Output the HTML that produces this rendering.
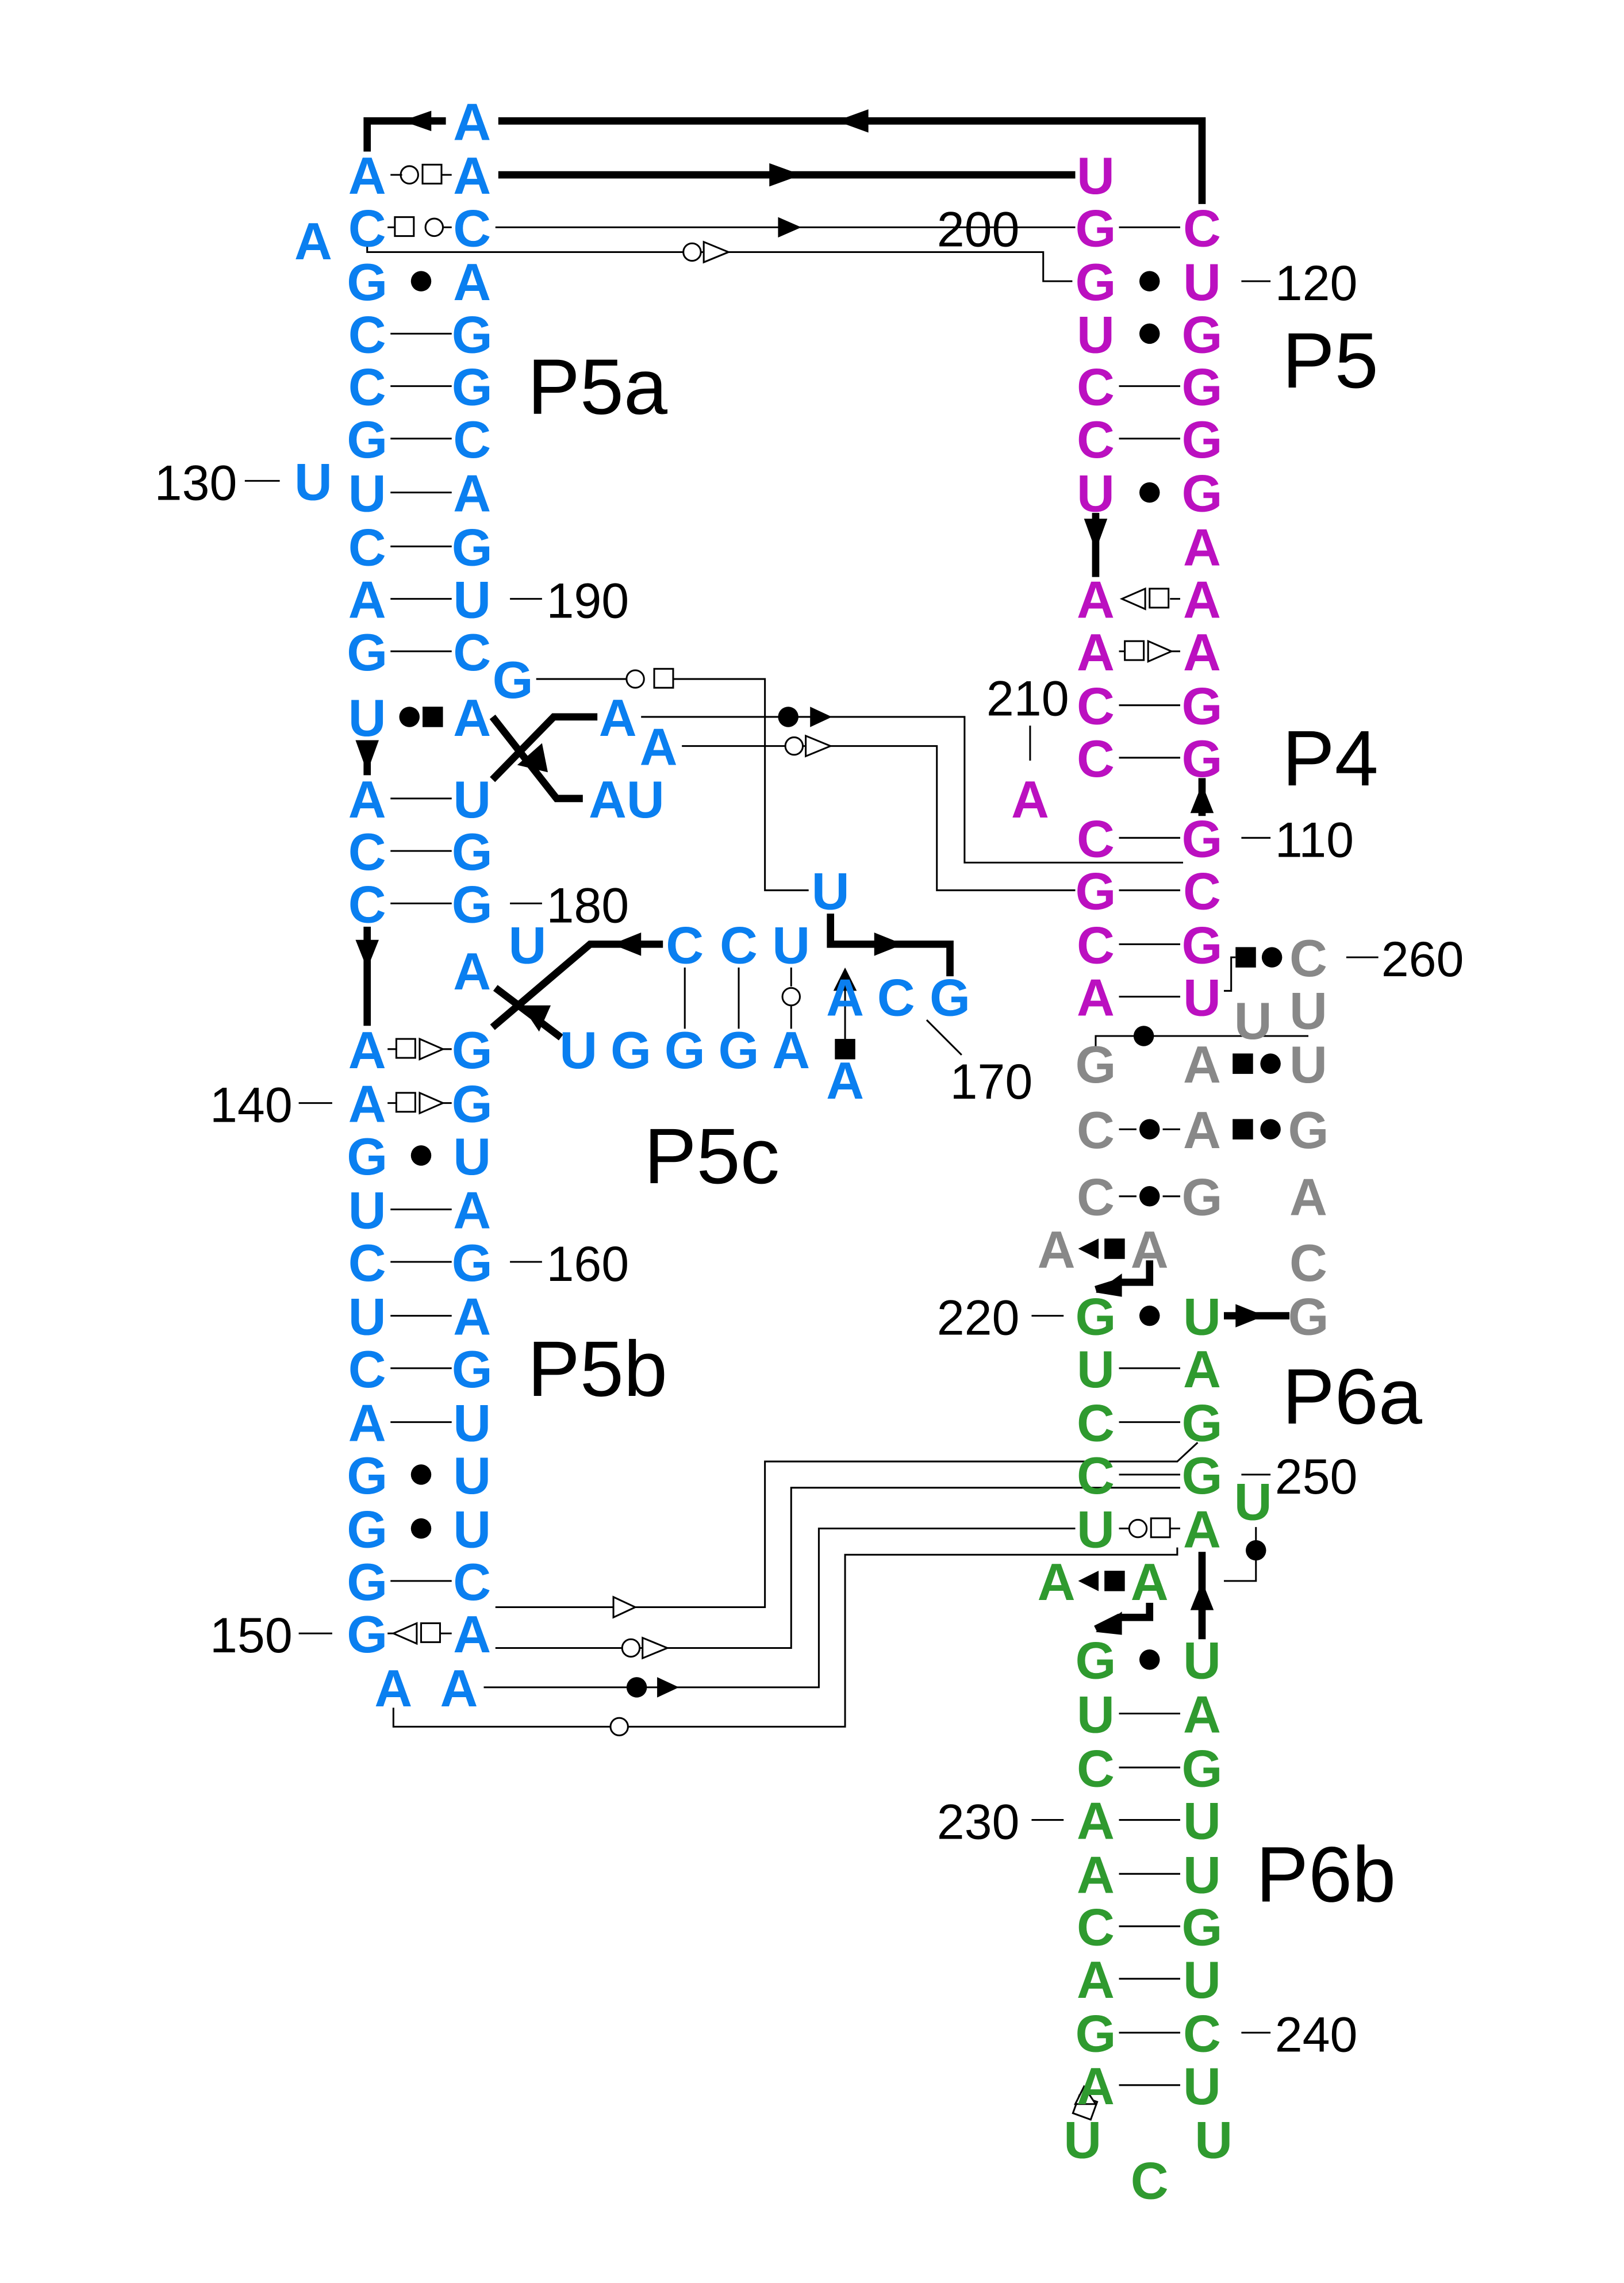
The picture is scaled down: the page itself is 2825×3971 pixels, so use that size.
<!DOCTYPE html>
<html><head><meta charset="utf-8"><style>
html,body{margin:0;padding:0;background:#fff;}
svg{display:block;}
text{font-family:"Liberation Sans",sans-serif;}
.b{font-weight:bold;font-size:36px;text-anchor:middle;}
.bl{fill:#0a7ff0}.mg{fill:#bb10c0}.gr{fill:#888}.gn{fill:#2f9a2f}
.n{font-size:34px;fill:#000}
.lab{font-size:54px;fill:#000}
.t{stroke:#000;stroke-width:1.2;fill:none}
.k{stroke:#000;stroke-width:5;fill:none}
</style></head><body>
<svg width="2825" height="3971" viewBox="0 0 1114.6 1566.8" xmlns="http://www.w3.org/2000/svg">
<rect width="1120" height="1570" fill="#fff"/>
<path class="k" d="M252,104 V83 H306 M342,83 H825 V140 M342,120 H738"/>
<polygon points="276,83 296,76 296,90"/><polygon points="574,83 596,75 596,91"/>
<polygon points="550,120 528,112 528,128"/>
<path class="t" d="M340,156 H738 M252,168 V173 H716 V193 H736"/>
<polygon points="550,156 534,149 534,163"/>
<circle cx="475" cy="173" r="6" fill="#fff" stroke="#000" stroke-width="1.2"/>
<polygon points="483,166 500,173 483,180" fill="#fff" stroke="#000" stroke-width="1.2"/>
<circle cx="281" cy="120" r="6" fill="#fff" stroke="#000" stroke-width="1.2"/><rect x="290" y="113" width="13" height="13" fill="#fff" stroke="#000" stroke-width="1.2"/>
<rect x="271" y="149" width="13" height="13" fill="#fff" stroke="#000" stroke-width="1.2"/><circle cx="298" cy="156" r="6" fill="#fff" stroke="#000" stroke-width="1.2"/>
<path class="t" d="M268,120 H276 M303,120 H310 M266,156 H271 M304,156 H310"/>
<g class="t">
<path d="M268,229H310M268,265H310M268,301H310M268,338H310M268,375H310M268,411H310M268,447H310M268,548H310M268,584H310M268,620H310M268,830H310M268,866H310M268,903H310M268,939H310M268,976H310M268,1085H310"/>
</g>
<g fill="#000"><circle cx="289" cy="193" r="7"/><circle cx="289" cy="793" r="7"/><circle cx="289" cy="1012" r="7"/><circle cx="289" cy="1049" r="7"/>
<circle cx="281" cy="492" r="7"/><rect x="290" y="485" width="14" height="14"/></g>
<g fill="#fff" stroke="#000" stroke-width="1.2">
<rect x="272" y="713" width="13" height="13"/><polygon points="288,713 304,720 288,727"/>
<rect x="272" y="750" width="13" height="13"/><polygon points="288,750 304,757 288,764"/>
<polygon points="270,1121 286,1114 286,1128"/><rect x="289" y="1114" width="13" height="13"/>
</g>
<path class="t" d="M266,720H272M304,720H310M266,757H272M304,757H310M266,1121H270M302,1121H310"/>
<path class="k" d="M252,508 V532 M252,636 V704"/>
<polygon points="252,530 244,508 260,508"/><polygon points="252,665 244,645 260,645"/>
<path class="k" d="M338,535 L380,492 H410 M338,492 L382,548 H400"/>
<polygon points="355,525 372,510 376,530"/>
<path class="k" d="M338,705 L405,648 H455 M340,678 L385,712"/>
<polygon points="420,648 440,640 440,656"/><polygon points="358,690 378,690 370,708"/>
<path class="k" d="M570,627 V648 H652 V670"/><polygon points="620,648 600,640 600,656"/>
<path class="t" d="M470,664V706M507,664V706M543,664V677M543,690V706"/>
<circle cx="543" cy="684" r="6" fill="#fff" stroke="#000" stroke-width="1.2"/>
<polygon points="580,664 572,680 588,680"/><rect x="573" y="713" width="14" height="14"/>
<path class="t" d="M580,680V713 M636,700 L660,724"/>
<path class="t" d="M368,466 H430 M462,466 H525 V611 H555"/>
<circle cx="436" cy="466" r="6" fill="#fff" stroke="#000" stroke-width="1.2"/><rect x="449" y="459" width="13" height="13" fill="#fff" stroke="#000" stroke-width="1.2"/>
<path class="t" d="M440,492 H662 V592 H812"/>
<circle cx="541" cy="492" r="7"/><polygon points="556,485 571,492 556,499"/>
<path class="t" d="M468,512 H643 V611 H738"/>
<circle cx="545" cy="512" r="6" fill="#fff" stroke="#000" stroke-width="1.2"/><polygon points="553,505 570,512 553,519" fill="#fff" stroke="#000" stroke-width="1.2"/>
<path class="t" d="M768,156H810M768,265H810M768,301H810M768,484H810M768,520H810M768,575H810M768,611H810M768,648H810M768,684H810M768,939H810M768,976H810M768,1012H810M768,1176H810M768,1213H810M768,1249H810M768,1286H810M768,1322H810M768,1358H810M768,1395H810M768,1431H810"/>
<g fill="#000"><circle cx="789" cy="193" r="7"/><circle cx="789" cy="229" r="7"/><circle cx="789" cy="338" r="7"/><circle cx="789" cy="903" r="7"/><circle cx="789" cy="1139" r="7"/></g>
<g fill="#fff" stroke="#000" stroke-width="1.2">
<polygon points="770,411 786,404 786,418"/><rect x="789" y="404" width="13" height="13"/>
<rect x="772" y="440" width="13" height="13"/><polygon points="788,440 804,447 788,454"/>
<rect x="738" y="1440" width="13" height="13" transform="rotate(20 745 1447)"/><polygon points="744,1432 738,1444 752,1444"/>
<circle cx="781" cy="1049" r="6"/><rect x="790" y="1042" width="13" height="13"/>
</g>
<path class="t" d="M803,411H810M768,447H772M804,447H810M768,1049H775M803,1049H810"/>
<path class="k" d="M752,352 V396 M825,534 V560"/>
<polygon points="752,378 744,356 760,356"/><polygon points="825,538 817,558 833,558"/>
<path class="t" d="M840,680 H845 V657 H848 M752,720 V711 H898"/>
<rect x="848" y="650" width="14" height="14"/><circle cx="873" cy="657" r="7"/>
<circle cx="785" cy="711" r="7"/>
<rect x="846" y="723" width="14" height="14"/><circle cx="872" cy="730" r="7"/>
<path class="t" d="M768,775H780M798,775H810"/><circle cx="789" cy="775" r="7"/>
<rect x="846" y="768" width="14" height="14"/><circle cx="872" cy="775" r="7"/>
<path class="t" d="M768,821H780M798,821H810"/><circle cx="789" cy="821" r="7"/>
<polygon points="740,857 754,850 754,864"/><rect x="758" y="850" width="14" height="14"/>
<path class="k" d="M752,885 L768,880 H789 V865 M840,903 H885"/><polygon points="752,887 770,874 770,890"/><polygon points="868,903 848,895 848,911"/>
<polygon points="740,1085 754,1078 754,1092"/><rect x="758" y="1078" width="14" height="14"/>
<path class="k" d="M752,1118 L768,1110 H789 V1100 M825,1125 V1065"/><polygon points="752,1120 770,1106 770,1122"/><polygon points="825,1085 817,1105 833,1105"/>
<path class="t" d="M862,1048 V1085 H840"/><circle cx="862" cy="1064" r="7"/>
<path class="t" d="M340,1103 H525 V1003 H808 L822,990"/>
<polygon points="421,1096 436,1103 421,1110" fill="#fff" stroke="#000" stroke-width="1.2"/>
<path class="t" d="M340,1131 H543 V1021 H810"/>
<circle cx="433" cy="1131" r="6" fill="#fff" stroke="#000" stroke-width="1.2"/><polygon points="441,1124 458,1131 441,1138" fill="#fff" stroke="#000" stroke-width="1.2"/>
<path class="t" d="M332,1158 H562 V1049 H738"/>
<circle cx="437" cy="1158" r="7"/><polygon points="451,1151 466,1158 451,1165"/>
<path class="t" d="M270,1172 V1185 H580 V1067 H808 V1062"/>
<circle cx="425" cy="1185" r="6" fill="#fff" stroke="#000" stroke-width="1.2"/>
<path class="t" d="M852,193H872M168,330H192M350,411H372M707,498V522M852,575H872M350,620H372M924,657H946M205,757H228M350,866H372M708,903H730M852,1012H872M205,1121H228M708,1249H730M852,1395H872"/>
<g class="b bl">
<text x="324" y="96">A</text>
<text x="252" y="133">A</text><text x="324" y="133">A</text>
<text x="252" y="169">C</text><text x="324" y="169">C</text><text x="215" y="178">A</text>
<text x="252" y="206">G</text><text x="324" y="206">A</text>
<text x="252" y="242">C</text><text x="324" y="242">G</text>
<text x="252" y="278">C</text><text x="324" y="278">G</text>
<text x="252" y="314">G</text><text x="324" y="314">C</text>
<text x="252" y="351">U</text><text x="324" y="351">A</text><text x="215" y="343">U</text>
<text x="252" y="388">C</text><text x="324" y="388">G</text>
<text x="252" y="424">A</text><text x="324" y="424">U</text>
<text x="252" y="460">G</text><text x="324" y="460">C</text><text x="352" y="479">G</text>
<text x="252" y="505">U</text><text x="324" y="505">A</text><text x="424" y="505">A</text><text x="452" y="525">A</text>
<text x="252" y="561">A</text><text x="324" y="561">U</text><text x="430" y="561">AU</text>
<text x="252" y="597">C</text><text x="324" y="597">G</text>
<text x="252" y="633">C</text><text x="324" y="633">G</text><text x="570" y="624">U</text>
<text x="362" y="661">U</text><text x="470" y="661">C</text><text x="507" y="661">C</text><text x="543" y="661">U</text>
<text x="324" y="679">A</text><text x="580" y="697">A</text><text x="615" y="697">C</text><text x="652" y="697">G</text>
<text x="252" y="733">A</text><text x="324" y="733">G</text><text x="397" y="733">U</text><text x="433" y="733">G</text><text x="470" y="733">G</text><text x="507" y="733">G</text><text x="543" y="733">A</text><text x="580" y="754">A</text>
<text x="252" y="770">A</text><text x="324" y="770">G</text>
<text x="252" y="806">G</text><text x="324" y="806">U</text>
<text x="252" y="843">U</text><text x="324" y="843">A</text>
<text x="252" y="879">C</text><text x="324" y="879">G</text>
<text x="252" y="916">U</text><text x="324" y="916">A</text>
<text x="252" y="952">C</text><text x="324" y="952">G</text>
<text x="252" y="989">A</text><text x="324" y="989">U</text>
<text x="252" y="1025">G</text><text x="324" y="1025">U</text>
<text x="252" y="1062">G</text><text x="324" y="1062">U</text>
<text x="252" y="1098">G</text><text x="324" y="1098">C</text>
<text x="252" y="1134">G</text><text x="324" y="1134">A</text>
<text x="270" y="1171">A</text><text x="315" y="1171">A</text>
</g>
<g class="b mg">
<text x="752" y="133">U</text>
<text x="752" y="169">G</text><text x="825" y="169">C</text>
<text x="752" y="206">G</text><text x="825" y="206">U</text>
<text x="752" y="242">U</text><text x="825" y="242">G</text>
<text x="752" y="278">C</text><text x="825" y="278">G</text>
<text x="752" y="314">C</text><text x="825" y="314">G</text>
<text x="752" y="351">U</text><text x="825" y="351">G</text>
<text x="825" y="388">A</text>
<text x="752" y="424">A</text><text x="825" y="424">A</text>
<text x="752" y="460">A</text><text x="825" y="460">A</text>
<text x="752" y="497">C</text><text x="825" y="497">G</text>
<text x="752" y="533">C</text><text x="825" y="533">G</text>
<text x="707" y="561">A</text>
<text x="752" y="588">C</text><text x="825" y="588">G</text>
<text x="752" y="624">G</text><text x="825" y="624">C</text>
<text x="752" y="661">C</text><text x="825" y="661">G</text>
<text x="752" y="697">A</text><text x="825" y="697">U</text>
</g>
<g class="b gr">
<text x="898" y="670">C</text><text x="860" y="713">U</text><text x="898" y="706">U</text>
<text x="752" y="743">G</text><text x="825" y="743">A</text><text x="898" y="743">U</text>
<text x="752" y="788">C</text><text x="825" y="788">A</text><text x="898" y="788">G</text>
<text x="752" y="834">C</text><text x="825" y="834">G</text><text x="898" y="834">A</text>
<text x="725" y="870">A</text><text x="789" y="870">A</text><text x="898" y="879">C</text>
<text x="898" y="916">G</text>
</g>
<g class="b gn">
<text x="752" y="916">G</text><text x="825" y="916">U</text>
<text x="752" y="952">U</text><text x="825" y="952">A</text>
<text x="752" y="989">C</text><text x="825" y="989">G</text>
<text x="752" y="1025">C</text><text x="825" y="1025">G</text><text x="860" y="1043">U</text>
<text x="752" y="1062">U</text><text x="825" y="1062">A</text>
<text x="725" y="1098">A</text><text x="789" y="1098">A</text>
<text x="752" y="1152">G</text><text x="825" y="1152">U</text>
<text x="752" y="1189">U</text><text x="825" y="1189">A</text>
<text x="752" y="1226">C</text><text x="825" y="1226">G</text>
<text x="752" y="1262">A</text><text x="825" y="1262">U</text>
<text x="752" y="1299">A</text><text x="825" y="1299">U</text>
<text x="752" y="1335">C</text><text x="825" y="1335">G</text>
<text x="752" y="1371">A</text><text x="825" y="1371">U</text>
<text x="752" y="1408">G</text><text x="825" y="1408">C</text>
<text x="752" y="1444">A</text><text x="825" y="1444">U</text>
<text x="743" y="1481">U</text><text x="833" y="1481">U</text><text x="789" y="1509">C</text>
</g>
<g class="n">
<text x="643" y="169">200</text><text x="875" y="206">120</text><text x="106" y="343">130</text>
<text x="375" y="424">190</text><text x="677" y="491">210</text><text x="875" y="588">110</text>
<text x="375" y="633">180</text><text x="948" y="670">260</text><text x="652" y="754">170</text>
<text x="144" y="770">140</text><text x="375" y="879">160</text><text x="643" y="916">220</text>
<text x="875" y="1025">250</text><text x="144" y="1134">150</text><text x="643" y="1262">230</text>
<text x="875" y="1408">240</text>
</g>
<g class="lab">
<text x="362" y="284">P5a</text><text x="880" y="266">P5</text><text x="880" y="539">P4</text>
<text x="442" y="812">P5c</text><text x="362" y="958">P5b</text><text x="880" y="977">P6a</text>
<text x="862" y="1305">P6b</text>
</g>
</svg>
</body></html>
